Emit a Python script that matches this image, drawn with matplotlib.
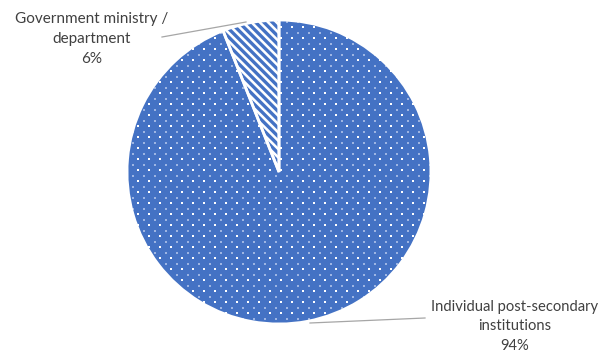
import numpy as np
import matplotlib.pyplot as plt
from matplotlib.patches import Wedge

labels = ["Individual post-secondary\ninstitutions", "Government ministry /\ndepartment"]
shares = [94, 6]

blue = "#4472C4"
text_col = "#404040"
line_col = "#A6A6A6"

plt.rcParams['font.family'] = ['Lato', 'DejaVu Sans']
plt.rcParams['hatch.linewidth'] = 2.4

fig = plt.figure(figsize=(6.08, 3.54), dpi=100)
ax = fig.add_axes([0, 0, 1, 1])

# pie centre / radius in pixel coords (y measured up from bottom)
cx, cy, r = 279, 354 - 172, 152

wedges, _ = ax.pie(shares, startangle=90, counterclock=False,
                   center=(cx, cy), radius=r, frame=True)
ax.set_xlim(0, 608)
ax.set_ylim(0, 354)
ax.set_aspect('equal')
ax.axis('off')

wedges[0].set_facecolor(blue)
wedges[0].set_linewidth(0)

wedges[1].set_facecolor("white")
wedges[1].set_edgecolor(blue)
wedges[1].set_hatch("\\\\\\\\")
wedges[1].set_linewidth(0)

# dotted texture on the big slice (excel "dotted" pattern)
step = 11
gx, gy = np.meshgrid(np.arange(cx - r, cx + r, step), np.arange(cy - r, cy + r, step))
bright = ax.scatter(gx.ravel(), gy.ravel(), s=1.2, c="white", marker='s', lw=0)
dim = ax.scatter(gx.ravel() + step / 2, gy.ravel() + step / 2, s=1.5, c="#9DB5E3",
                 marker='s', lw=0)
bright.set_clip_path(wedges[0])
dim.set_clip_path(wedges[0])

# white separators on top of slices
for w in wedges:
    ax.add_patch(Wedge(w.center, w.r, w.theta1, w.theta2,
                       facecolor="none", edgecolor="white", linewidth=2))

# labels
ax.text(92, 354 - 39, labels[1] + "\n%d%%" % shares[1], ha='center', va='center',
        fontsize=11, color=text_col, linespacing=1.55)
ax.plot([162, 246], [354 - 37, 354 - 22], color=line_col, lw=0.9)

ax.text(515, 354 - 326, labels[0] + "\n%d%%" % shares[0], ha='center', va='center',
        fontsize=10.6, color=text_col, linespacing=1.5)
ax.plot([310, 425], [354 - 323, 354 - 318], color=line_col, lw=0.9)

fig.savefig("out.png", dpi=100)
